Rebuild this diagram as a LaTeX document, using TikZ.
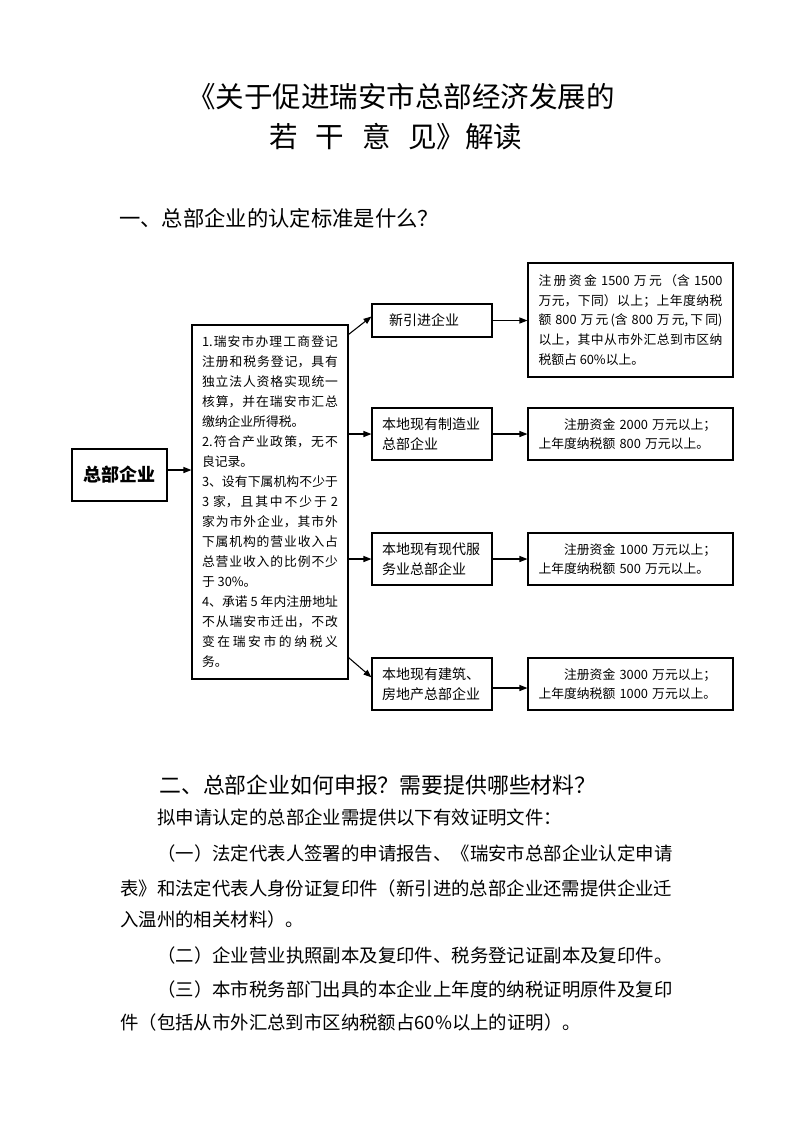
\documentclass[tikz,border=0pt]{standalone}
\usepackage{fontspec}
\setmainfont{Noto Sans CJK SC}
\usetikzlibrary{arrows.meta}
\XeTeXlinebreaklocale "zh"
\XeTeXlinebreakskip=0pt plus 2pt
\begin{document}
\begin{tikzpicture}[x=0.75pt,y=-0.75pt,
  box/.style={draw, line width=0.8pt, inner ysep=0pt},
  arr/.style={-{Triangle[length=6pt,width=4.5pt]}, line width=0.8pt},
  plain/.style={inner sep=0pt},
  bodyline/.style={anchor=base west, inner sep=0pt, font=\fontsize{13.8}{20}\selectfont},
  headline/.style={anchor=west, inner sep=0pt, font=\fontsize{16}{20}\selectfont},
  titleline/.style={inner sep=0pt, font=\fontsize{21.4}{26}\selectfont},
  catbox/.style={box, text width=75pt, inner xsep=7.5pt, minimum width=90pt, minimum height=39pt, align=left, font=\fontsize{10.5}{14.6}\selectfont},
  detbox/.style={box, text width=138pt, inner xsep=7.875pt, minimum width=153.75pt, minimum height=39pt, align=left, font=\fontsize{9.6}{14.8}\selectfont}
]
\path[fill=white] (0,0) rectangle (793,1122);
\useasboundingbox (0,0) rectangle (793,1122);

% title
\node[titleline] (t1) at (401,97) {《关于促进瑞安市总部经济发展的};
\node[titleline] (t2) at (396,137) {若\hspace{0.62em}干\hspace{0.62em}意\hspace{0.62em}见》解读};

% heading 1
\node[headline] (h1) at (119,218) {一、总部企业的认定标准是什么？};

% diagram
\node[box, minimum width=71.25pt, minimum height=39pt, font=\fontsize{13.5}{16}\selectfont\bfseries] (zb) at (119.5,475) {总部企业};

\node[box, text width=102pt, inner xsep=7.5pt, minimum width=117pt, minimum height=265.5pt, align=justify, font=\fontsize{9.6}{15}\selectfont] (big) at (270,502)
{1.瑞安市办理工商登记\linebreak 注册和税务登记，具有\linebreak 独立法人资格实现统一\linebreak 核算，并在瑞安市汇总\linebreak 缴纳企业所得税。\\
2.符合产业政策，无不\linebreak 良记录。\\
3、设有下属机构不少于\linebreak 3 家，且其中不少于 2\linebreak 家为市外企业，其市外\linebreak 下属机构的营业收入占\linebreak 总营业收入的比例不少\linebreak 于 30\%。\\
4、承诺 5 年内注册地址\linebreak 不从瑞安市迁出，不改\linebreak 变在瑞安市的纳税义\linebreak 务。};

\node[catbox, minimum height=24.75pt] (n1) at (432,320.5) {\hspace*{5.25pt}新引进企业};
\node[catbox] (n2) at (432,434) {本地现有制造业\\总部企业};
\node[catbox] (n3) at (432,559) {本地现有现代服\\务业总部企业};
\node[catbox] (n4) at (432,684) {本地现有建筑、\\房地产总部企业};

\node[detbox, minimum height=85.5pt, align=justify] (d1) at (630.5,320)
{注册资金 1500 万元（含 1500\linebreak 万元，下同）以上；上年度纳税\linebreak 额 800 万元(含 800 万元,下同)\linebreak 以上，其中从市外汇总到市区纳\linebreak 税额占 60\%以上。};
\node[detbox] (d2) at (630.5,434) {\hspace*{2em}注册资金 2000 万元以上；\\上年度纳税额 800 万元以上。};
\node[detbox] (d3) at (630.5,559) {\hspace*{2em}注册资金 1000 万元以上；\\上年度纳税额 500 万元以上。};
\node[detbox] (d4) at (630.5,684) {\hspace*{2em}注册资金 3000 万元以上；\\上年度纳税额 1000 万元以上。};

% connectors
\draw[arr] ([yshift=3.75pt]zb.east) -- ([yshift=3.75pt]zb.east -| big.west);
\draw[arr] ([yshift=-7.5pt]big.north east) -- ([yshift=3pt]n1.west);
\draw[arr] (big.east |- n2.west) -- (n2.west);
\draw[arr] (big.east |- n3.west) -- (n3.west);
\draw[arr] ([yshift=16.5pt]big.south east) -- ([yshift=5pt]n4.west);
\draw[arr] (n1.east) -- (d1.west |- n1.east);
\draw[arr] (n2.east) -- (d2.west |- n2.east);
\draw[arr] (n3.east) -- (d3.west |- n3.east);
\draw[arr] ([yshift=-3pt]n4.east) -- ([yshift=-3pt]d4.west |- n4.east);

% section 2
\node[headline, font=\fontsize{16.4}{20}\selectfont] (h2) at (159,785) {二、总部企业如何申报？需要提供哪些材料？};
\node[bodyline] (p0) at (157,824) {拟申请认定的总部企业需提供以下有效证明文件：};
\node[bodyline] (p1a) at (157,860) {（一）法定代表人签署的申请报告、《瑞安市总部企业认定申请};
\node[bodyline] (p1b) at (120,895) {表》和法定代表人身份证复印件（新引进的总部企业还需提供企业迁};
\node[bodyline] (p1c) at (120,926) {入温州的相关材料）。};
\node[bodyline] (p2) at (157,962) {（二）企业营业执照副本及复印件、税务登记证副本及复印件。};
\node[bodyline] (p3a) at (157,996) {（三）本市税务部门出具的本企业上年度的纳税证明原件及复印};
\node[bodyline] (p3b) at (120,1029) {件（包括从市外汇总到市区纳税额占60\%以上的证明）。};
\end{tikzpicture}
\end{document}
